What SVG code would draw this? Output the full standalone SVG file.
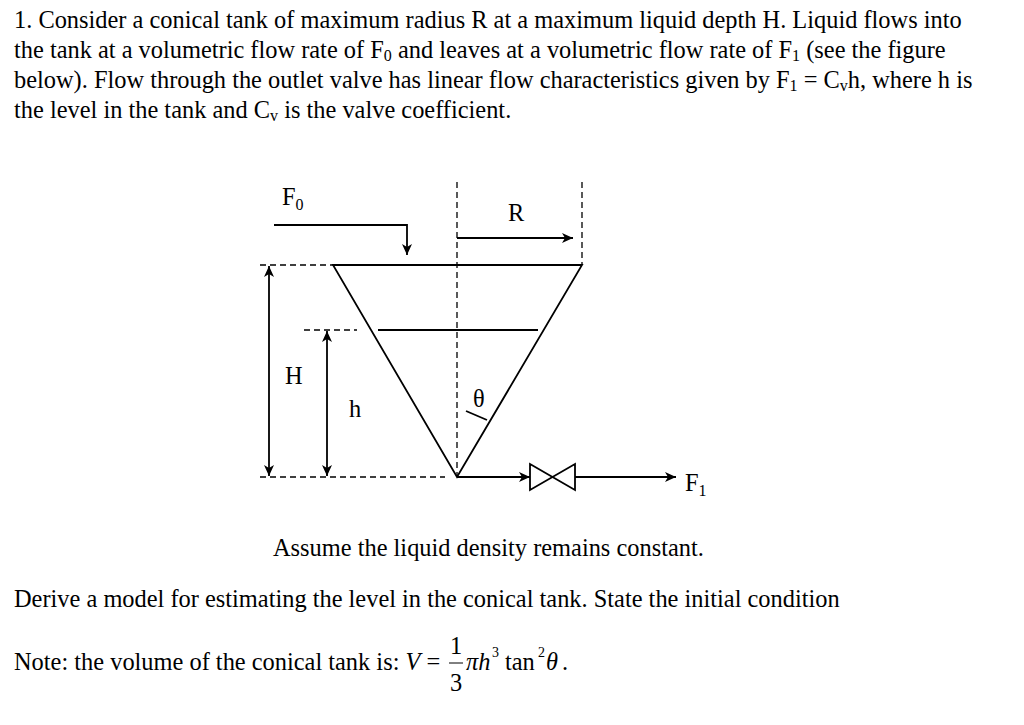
<svg xmlns="http://www.w3.org/2000/svg" width="1024" height="725" viewBox="0 0 1024 725">
<style>
text{font-family:"Liberation Serif","Times New Roman",serif;font-size:24.4px;fill:#000}
text.sup{font-size:14px}
.s{stroke:#000;stroke-width:1.8;fill:none}
.d{stroke:#000;stroke-width:1.3;fill:none;stroke-dasharray:6,4}
tspan.sub{font-size:16px}
</style>
<defs><marker id="a" markerWidth="12" markerHeight="10" refX="11" refY="5" orient="auto" markerUnits="userSpaceOnUse"><path d="M0,0 L11,5 L0,10 L3,5 Z" fill="#000"/></marker></defs>
<rect width="1024" height="725" fill="#fff"/>
<g id="text">
<text x="14" y="28">1. Consider a conical tank of maximum radius R at a maximum liquid depth H. Liquid flows into</text>
<text x="14" y="58">the tank at a volumetric flow rate of F<tspan class="sub" dy="3">0</tspan><tspan dy="-3"> and leaves at a volumetric flow rate of F</tspan><tspan class="sub" dy="3">1</tspan><tspan dy="-3"> (see the figure</tspan></text>
<text x="14" y="88">below). Flow through the outlet valve has linear flow characteristics given by F<tspan class="sub" dy="3">1</tspan><tspan dy="-3"> = C</tspan><tspan class="sub" dy="3">v</tspan><tspan dy="-3">h, where h is</tspan></text>
<text x="14" y="118">the level in the tank and C<tspan class="sub" dy="3">v</tspan><tspan dy="-3"> is the valve coefficient.</tspan></text>
<text x="273" y="556">Assume the liquid density remains constant.</text>
<text x="14" y="607">Derive a model for estimating the level in the conical tank. State the initial condition</text>
<text x="14" y="670">Note: the volume of the conical tank is: <tspan font-style="italic">V</tspan> =</text>
<text x="450" y="654">1</text>
<line x1="449" y1="663" x2="463" y2="663" stroke="#000" stroke-width="1"/>
<text x="450" y="691">3</text>
<text x="466" y="670" font-style="italic">πh</text><text class="sup" x="492" y="657">3</text>
<text x="505" y="670">tan</text><text class="sup" x="538" y="657">2</text>
<text x="546" y="670" font-style="italic">θ</text><text x="562" y="670">.</text>
</g>
<g id="tank">
<path class="s" d="M333,265 L582,265 L457,477 Z"/>
<line class="s" x1="378" y1="330" x2="538" y2="330"/>
<line class="s" x1="466" y1="411" x2="487" y2="420"/>
</g>
<g id="connectors">
<line class="d" x1="457" y1="182" x2="457" y2="477"/>
<line class="d" x1="582" y1="182" x2="582" y2="265"/>
<line class="d" x1="260" y1="265" x2="333" y2="265"/>
<line class="d" x1="304" y1="330" x2="357" y2="330"/>
<line class="d" x1="260" y1="477" x2="445" y2="477"/>
<line class="s" x1="457" y1="238" x2="573" y2="238" marker-end="url(#a)"/>
<path class="s" d="M274,225 L407,225 L407,255" marker-end="url(#a)"/>
<line class="s" x1="269" y1="277" x2="269" y2="266" marker-end="url(#a)"/>
<line class="s" x1="269" y1="277" x2="269" y2="476" marker-end="url(#a)"/>
<line class="s" x1="327" y1="340" x2="327" y2="331" marker-end="url(#a)"/>
<line class="s" x1="327" y1="340" x2="327" y2="476" marker-end="url(#a)"/>
<line class="s" x1="457" y1="477" x2="530" y2="477" marker-end="url(#a)"/>
<line class="s" x1="575" y1="477" x2="676" y2="477" marker-end="url(#a)"/>
</g>
<g id="valve"><path class="s" d="M530,464 L575,490 L575,464 L530,490 Z"/></g>
<g id="labels">
<text x="282" y="205">F<tspan class="sub" dy="5">0</tspan></text>
<text x="508" y="221">R</text>
<text x="285" y="384">H</text>
<text x="349" y="417">h</text>
<text x="473" y="407">θ</text>
<text x="685" y="491">F<tspan class="sub" dy="5">1</tspan></text>
</g>
</svg>
